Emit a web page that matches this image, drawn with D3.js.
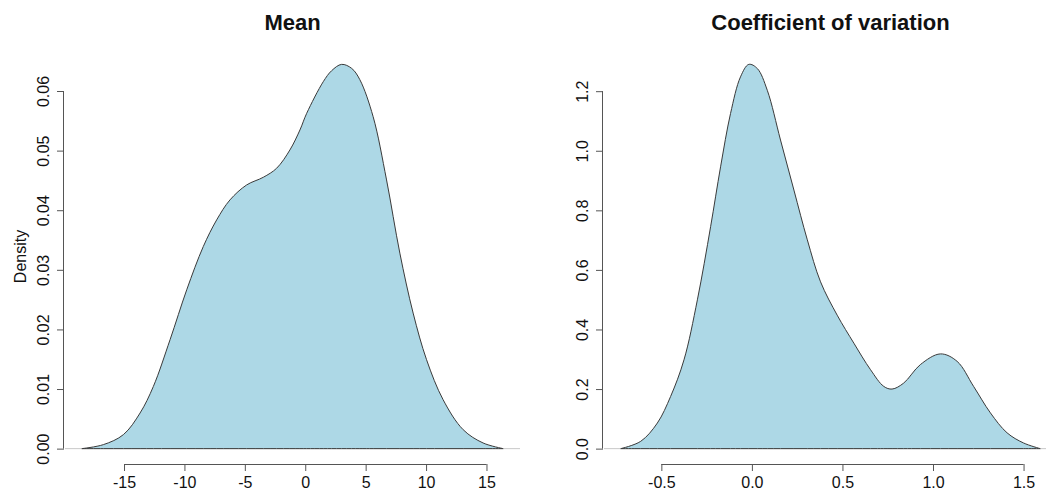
<!DOCTYPE html>
<html>
<head>
<meta charset="utf-8">
<script src="https://cdn.jsdelivr.net/npm/d3@7"></script>
<style>
  html, body { margin: 0; padding: 0; background: #fff; }
  svg { display: block; font-family: "Liberation Sans", Arial, sans-serif; }
</style>
</head>
<body>
<svg id="chart" width="1046" height="493"></svg>
<script>
// Kernel density estimate of the mean
const meanX = [-18.49, -16.71, -15.05, -13.67, -12.57, -11.19, -9.81, -8.44, -7.33, -6.23,
  -4.85, -3.47, -2.37, -1.27, -0.44, 0.12, 1.49, 2.18, 3.01, 3.84, 4.52, 5.62, 6.73, 7.83,
  8.93, 10.04, 11.41, 13.07, 14.72, 16.38];
const meanY = [0.0000, 0.00067, 0.00235, 0.00598, 0.01044, 0.01827, 0.02665, 0.0339, 0.03838,
  0.04173, 0.04424, 0.04553, 0.04704, 0.05011, 0.05346, 0.05626, 0.06156, 0.0634, 0.06447,
  0.0638, 0.0619, 0.05569, 0.04508, 0.0328, 0.02274, 0.01492, 0.00821, 0.00318, 0.00095, 0.0000];

// Kernel density estimate of the coefficient of variation
const cvX = [-0.724, -0.614, -0.522, -0.449, -0.375, -0.301, -0.228, -0.173, -0.118, -0.063,
  -0.017, 0.030, 0.085, 0.158, 0.232, 0.306, 0.379, 0.471, 0.563, 0.655, 0.728, 0.774,
  0.838, 0.930, 1.041, 1.133, 1.224, 1.317, 1.409, 1.500, 1.592];
const cvY = [0.000, 0.0245, 0.086, 0.175, 0.298, 0.4995, 0.745, 0.946, 1.125, 1.248, 1.29,
  1.276, 1.203, 1.036, 0.868, 0.701, 0.56, 0.448, 0.354, 0.265, 0.209, 0.200, 0.220,
  0.282, 0.318, 0.293, 0.209, 0.120, 0.053, 0.019, 0.000];

// Tick labels
const meanXTicks = [-15, -10, -5, 0, 5, 10, 15];
const meanYTicks = [0, 0.01, 0.02, 0.03, 0.04, 0.05, 0.06];
const cvXTicks = [-0.5, 0, 0.5, 1.0, 1.5];
const cvYTicks = [0, 0.2, 0.4, 0.6, 0.8, 1.0, 1.2];

const svg = d3.select("#chart");
const FONT = "'Liberation Sans', Arial, sans-serif";

// plain hyphen-minus instead of the typographic minus d3.format emits
const fmt = spec => { const f = d3.format(spec); return v => f(v).replace("\u2212", "-"); };

function panel(opts) {
  const { xs, ys, left, right, top, bottom, title, xTicks, yTicks, xFmt, yFmt, ylab } = opts;
  const pts = xs.map((x, i) => ({ x, y: ys[i] }));

  // plot region padded 4% beyond the data range on each side
  const xr = d3.extent(xs), yr = [0, d3.max(ys)];
  const xp = (xr[1] - xr[0]) * 0.04, yp = (yr[1] - yr[0]) * 0.04;
  const x = d3.scaleLinear().domain([xr[0] - xp, xr[1] + xp]).range([left, right]);
  const y = d3.scaleLinear().domain([yr[0] - yp, yr[1] + yp]).range([bottom, top]);

  const g = svg.append("g");

  // zero line
  g.append("line")
    .attr("x1", left).attr("x2", right)
    .attr("y1", y(0)).attr("y2", y(0))
    .attr("stroke", "#c8c8c8").attr("stroke-width", 1);

  const area = d3.area()
    .x(d => x(d.x)).y0(y(0)).y1(d => y(d.y))
    .curve(d3.curveCatmullRom.alpha(0.5));

  g.append("path")
    .datum(pts)
    .attr("d", area)
    .attr("fill", "#add8e6")
    .attr("stroke", "#3a3a3a")
    .attr("stroke-width", 1)
    .attr("stroke-linejoin", "round");

  // x axis
  const xa = g.append("g").attr("transform", `translate(0,${bottom})`)
    .call(d3.axisBottom(x).tickValues(xTicks).tickFormat(xFmt).tickSizeInner(7).tickSizeOuter(0).tickPadding(6));
  xa.select(".domain").attr("d", `M${x(xTicks[0])},0.5H${x(xTicks[xTicks.length - 1])}`);

  // y axis
  const ya = g.append("g").attr("transform", `translate(${left - 1},0)`)
    .call(d3.axisLeft(y).tickValues(yTicks).tickFormat(yFmt).tickSizeInner(7).tickSizeOuter(0));
  ya.select(".domain").attr("d", `M-0.5,${y(yTicks[0])}V${y(yTicks[yTicks.length - 1])}`);
  ya.selectAll(".tick text")
    .attr("transform", "rotate(-90)")
    .attr("x", 0).attr("y", -15)
    .attr("dy", "0")
    .attr("text-anchor", "middle");

  [xa, ya].forEach(a => {
    a.selectAll(".domain, .tick line").attr("stroke", "#555");
    a.selectAll(".tick text").attr("fill", "#111").style("font-size", "16px")
      .style("font-family", FONT);
  });

  g.append("text")
    .attr("x", (left + right) / 2).attr("y", 30)
    .attr("text-anchor", "middle")
    .style("font-weight", "bold").style("font-size", "22px")
    .style("font-family", FONT)
    .attr("fill", "#111")
    .text(title);

  if (ylab) {
    g.append("text")
      .attr("transform", `translate(26,${(top + bottom) / 2}) rotate(-90)`)
      .attr("text-anchor", "middle")
      .style("font-size", "16px")
      .style("font-family", FONT)
      .attr("fill", "#111")
      .text(ylab);
  }
}

panel({
  xs: meanX, ys: meanY, left: 65, right: 520, top: 49, bottom: 464,
  title: "Mean", xTicks: meanXTicks, yTicks: meanYTicks,
  xFmt: fmt("d"), yFmt: fmt(".2f"), ylab: "Density"
});

panel({
  xs: cvX, ys: cvY, left: 604, right: 1057, top: 49, bottom: 464,
  title: "Coefficient of variation", xTicks: cvXTicks, yTicks: cvYTicks,
  xFmt: fmt(".1f"), yFmt: fmt(".1f")
});
</script>
</body>
</html>
